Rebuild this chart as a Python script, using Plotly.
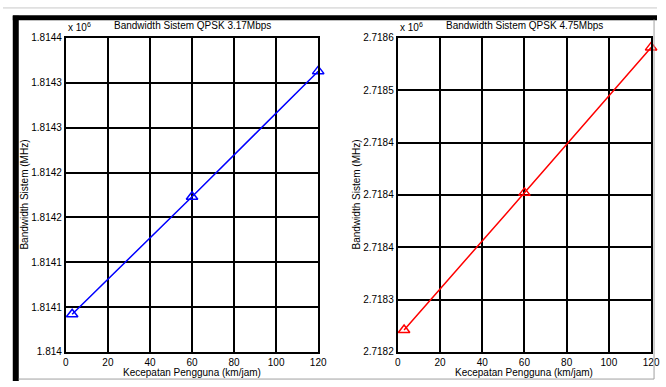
import plotly.graph_objects as go

# ---- data ----
kecepatan = [3, 60, 120]
bw_317 = [1814042, 1814173, 1814313]
bw_475 = [2718271, 2718402, 2718541]

x_ticks = [0, 20, 40, 60, 80, 100, 120]
y1_ticks = [1814000, 1814050, 1814100, 1814150, 1814200, 1814250, 1814300, 1814350]
y1_labels = ["1.814", "1.8141", "1.8141", "1.8142", "1.8142", "1.8143", "1.8143", "1.8144"]
y2_ticks = [2718250, 2718300, 2718350, 2718400, 2718450, 2718500, 2718550]
y2_labels = ["2.7182", "2.7183", "2.7184", "2.7184", "2.7184", "2.7185", "2.7186"]

titles = ["Bandwidth Sistem QPSK 3.17Mbps", "Bandwidth Sistem QPSK 4.75Mbps"]
x_title = "Kecepatan Pengguna (km/jam)"
y_title = "Bandwidth Sistem (MHz)"

W, H = 666, 387
FONT = "Liberation Sans, Arial, sans-serif"

def px(x):
    return x / W

def py(y):
    return 1 - y / H

left = (64, 321)
right = (402, 660)
top, bottom = 33, 357

fig = go.Figure()
fig.add_trace(go.Scatter(x=kecepatan, y=bw_317, mode="lines+markers",
                         line=dict(color="#0000ff", width=1.5),
                         marker=dict(symbol="triangle-up-open", size=10,
                                     color="#0000ff", line=dict(width=1.5)),
                         xaxis="x", yaxis="y", showlegend=False, cliponaxis=False))
fig.add_trace(go.Scatter(x=kecepatan, y=bw_475, mode="lines+markers",
                         line=dict(color="#ff0000", width=1.5),
                         marker=dict(symbol="triangle-up-open", size=10,
                                     color="#ff0000", line=dict(width=1.5)),
                         xaxis="x2", yaxis="y2", showlegend=False, cliponaxis=False))

ax_common = dict(showgrid=True, gridcolor="black", gridwidth=2,
                 showline=True, linecolor="black", linewidth=2, mirror=True,
                 ticks="", zeroline=False,
                 tickfont=dict(family=FONT, size=10, color="black"))

fig.update_layout(
    width=W, height=H,
    margin=dict(l=0, r=0, t=0, b=0),
    paper_bgcolor="white", plot_bgcolor="white",
    font=dict(family=FONT, size=10, color="black"),
    xaxis=dict(domain=[px(left[0]), px(left[1])], range=[0, 120],
               tickvals=x_ticks, anchor="y", **ax_common),
    yaxis=dict(domain=[py(bottom), py(top)], range=[y1_ticks[0], y1_ticks[-1]],
               tickvals=y1_ticks, ticktext=y1_labels, anchor="x", **ax_common),
    xaxis2=dict(domain=[px(right[0]), px(right[1])], range=[0, 120],
                tickvals=x_ticks, anchor="y2", **ax_common),
    yaxis2=dict(domain=[py(bottom), py(top)], range=[y2_ticks[0], y2_ticks[-1]],
                tickvals=y2_ticks, ticktext=y2_labels, anchor="x2", **ax_common),
)

ann = []
for (l, r), t, ylx in [(left, titles[0], 22), (right, titles[1], 360)]:
    ann.append(dict(x=px((l + r) / 2), y=py(20), xref="paper", yref="paper",
                    text=t, showarrow=False, font=dict(size=10),
                    xanchor="center", yanchor="middle"))
    ann.append(dict(x=px(l), y=py(22), xref="paper", yref="paper",
                    text="x 10<sup>6</sup>", showarrow=False, font=dict(size=10),
                    xanchor="left", yanchor="middle"))
    ann.append(dict(x=px((l + r) / 2), y=py(378), xref="paper", yref="paper",
                    text=x_title, showarrow=False, font=dict(size=10),
                    xanchor="center", yanchor="middle"))
    ann.append(dict(x=px(ylx), y=py((top + bottom) / 2), xref="paper", yref="paper",
                    text=y_title, showarrow=False, font=dict(size=10),
                    textangle=-90, xanchor="center", yanchor="middle"))
fig.update_layout(annotations=ann)

shapes = [
    dict(type="line", xref="paper", yref="paper", x0=px(0), x1=1, y0=py(2), y1=py(2),
         line=dict(color="#c8c8c8", width=1)),
    dict(type="line", xref="paper", yref="paper", x0=px(10), x1=1, y0=py(12), y1=py(12),
         line=dict(color="black", width=5)),
    dict(type="line", xref="paper", yref="paper", x0=px(13), x1=px(13), y0=py(10), y1=py(387),
         line=dict(color="black", width=6)),
    dict(type="line", xref="paper", yref="paper", x0=px(663), x1=px(663), y0=py(14), y1=py(385),
         line=dict(color="#a0a0a0", width=1)),
    dict(type="line", xref="paper", yref="paper", x0=px(16), x1=px(663), y0=py(385), y1=py(385),
         line=dict(color="#a0a0a0", width=1)),
]
fig.update_layout(shapes=shapes)

post = (
    "document.documentElement.style.margin='0';"
    "document.body.style.margin='0';"
)

fig.write_html("out.html", config={"displayModeBar": False}, post_script=post)
